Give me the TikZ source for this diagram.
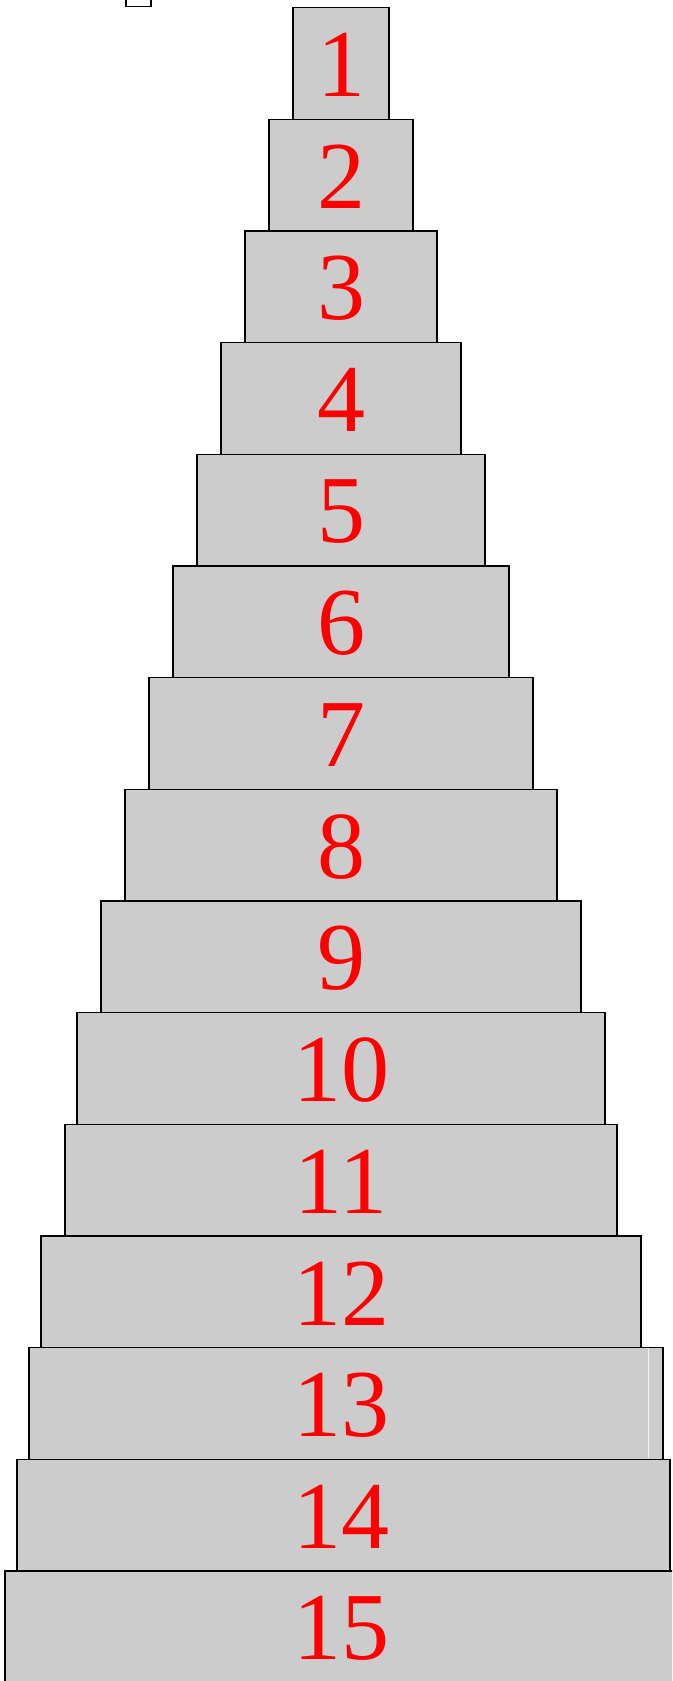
\documentclass[tikz,border=0pt]{standalone}
\usepackage{fontspec}
\setmainfont{Liberation Serif}
\usepackage{tikz}
\usetikzlibrary{positioning, calc}

\definecolor{boxgray}{RGB}{204,204,204}

\begin{document}
\begin{tikzpicture}[
		x=1pt, y=-1pt,
		% --- ESTILOS ---
		level_box/.style={
			rectangle,
			draw=black,
			fill=boxgray,
			line width=1.4pt,
			inner sep=0pt,
			outer sep=0pt,
			minimum height=111.66pt
		},
		num_label/.style={
			inner sep=0pt,
			text=red,
			font=\fontsize{96}{96}\selectfont
		}
		]
		
		% --- MARCO ---
		\useasboundingbox (0,0) rectangle (672,1681);
		\clip (0,0) rectangle (672,1681);
		
		% resto de caja arriba a la izquierda
		\node (corner) [draw=black, line width=1.4pt, inner sep=0pt, minimum width=25pt, minimum height=20pt] at (138.5,-3.3) {};
		
		% --- NIVELES ---
		\foreach \i/\l/\r in {1/293/389, 2/269/413, 3/245/437, 4/221/461, 5/197/485,
			6/173/509, 7/149/533, 8/125/557, 9/101/581, 10/77/605,
			11/65/617, 12/41/641, 13/29/663, 14/17/670, 15/5/690} {
			\node (b\i) [level_box, minimum width={(\r-\l)*1pt}] at ({(\l+\r)/2}, {63.53+111.66*(\i-1)}) {};
		}
		
		% linea clara dentro del nivel 13
		\draw [gray!12, line width=0.8pt] ($(b13.north east)+(-14.3,0.8)$) -- ($(b13.south east)+(-14.3,-0.8)$);
		
		% --- NUMEROS ---
		\foreach \i in {1,...,15} {
			\node (n\i) [num_label] at (341, {65.3+111.66*(\i-1)}) {\i};
		}
		
	\end{tikzpicture}
\end{document}
